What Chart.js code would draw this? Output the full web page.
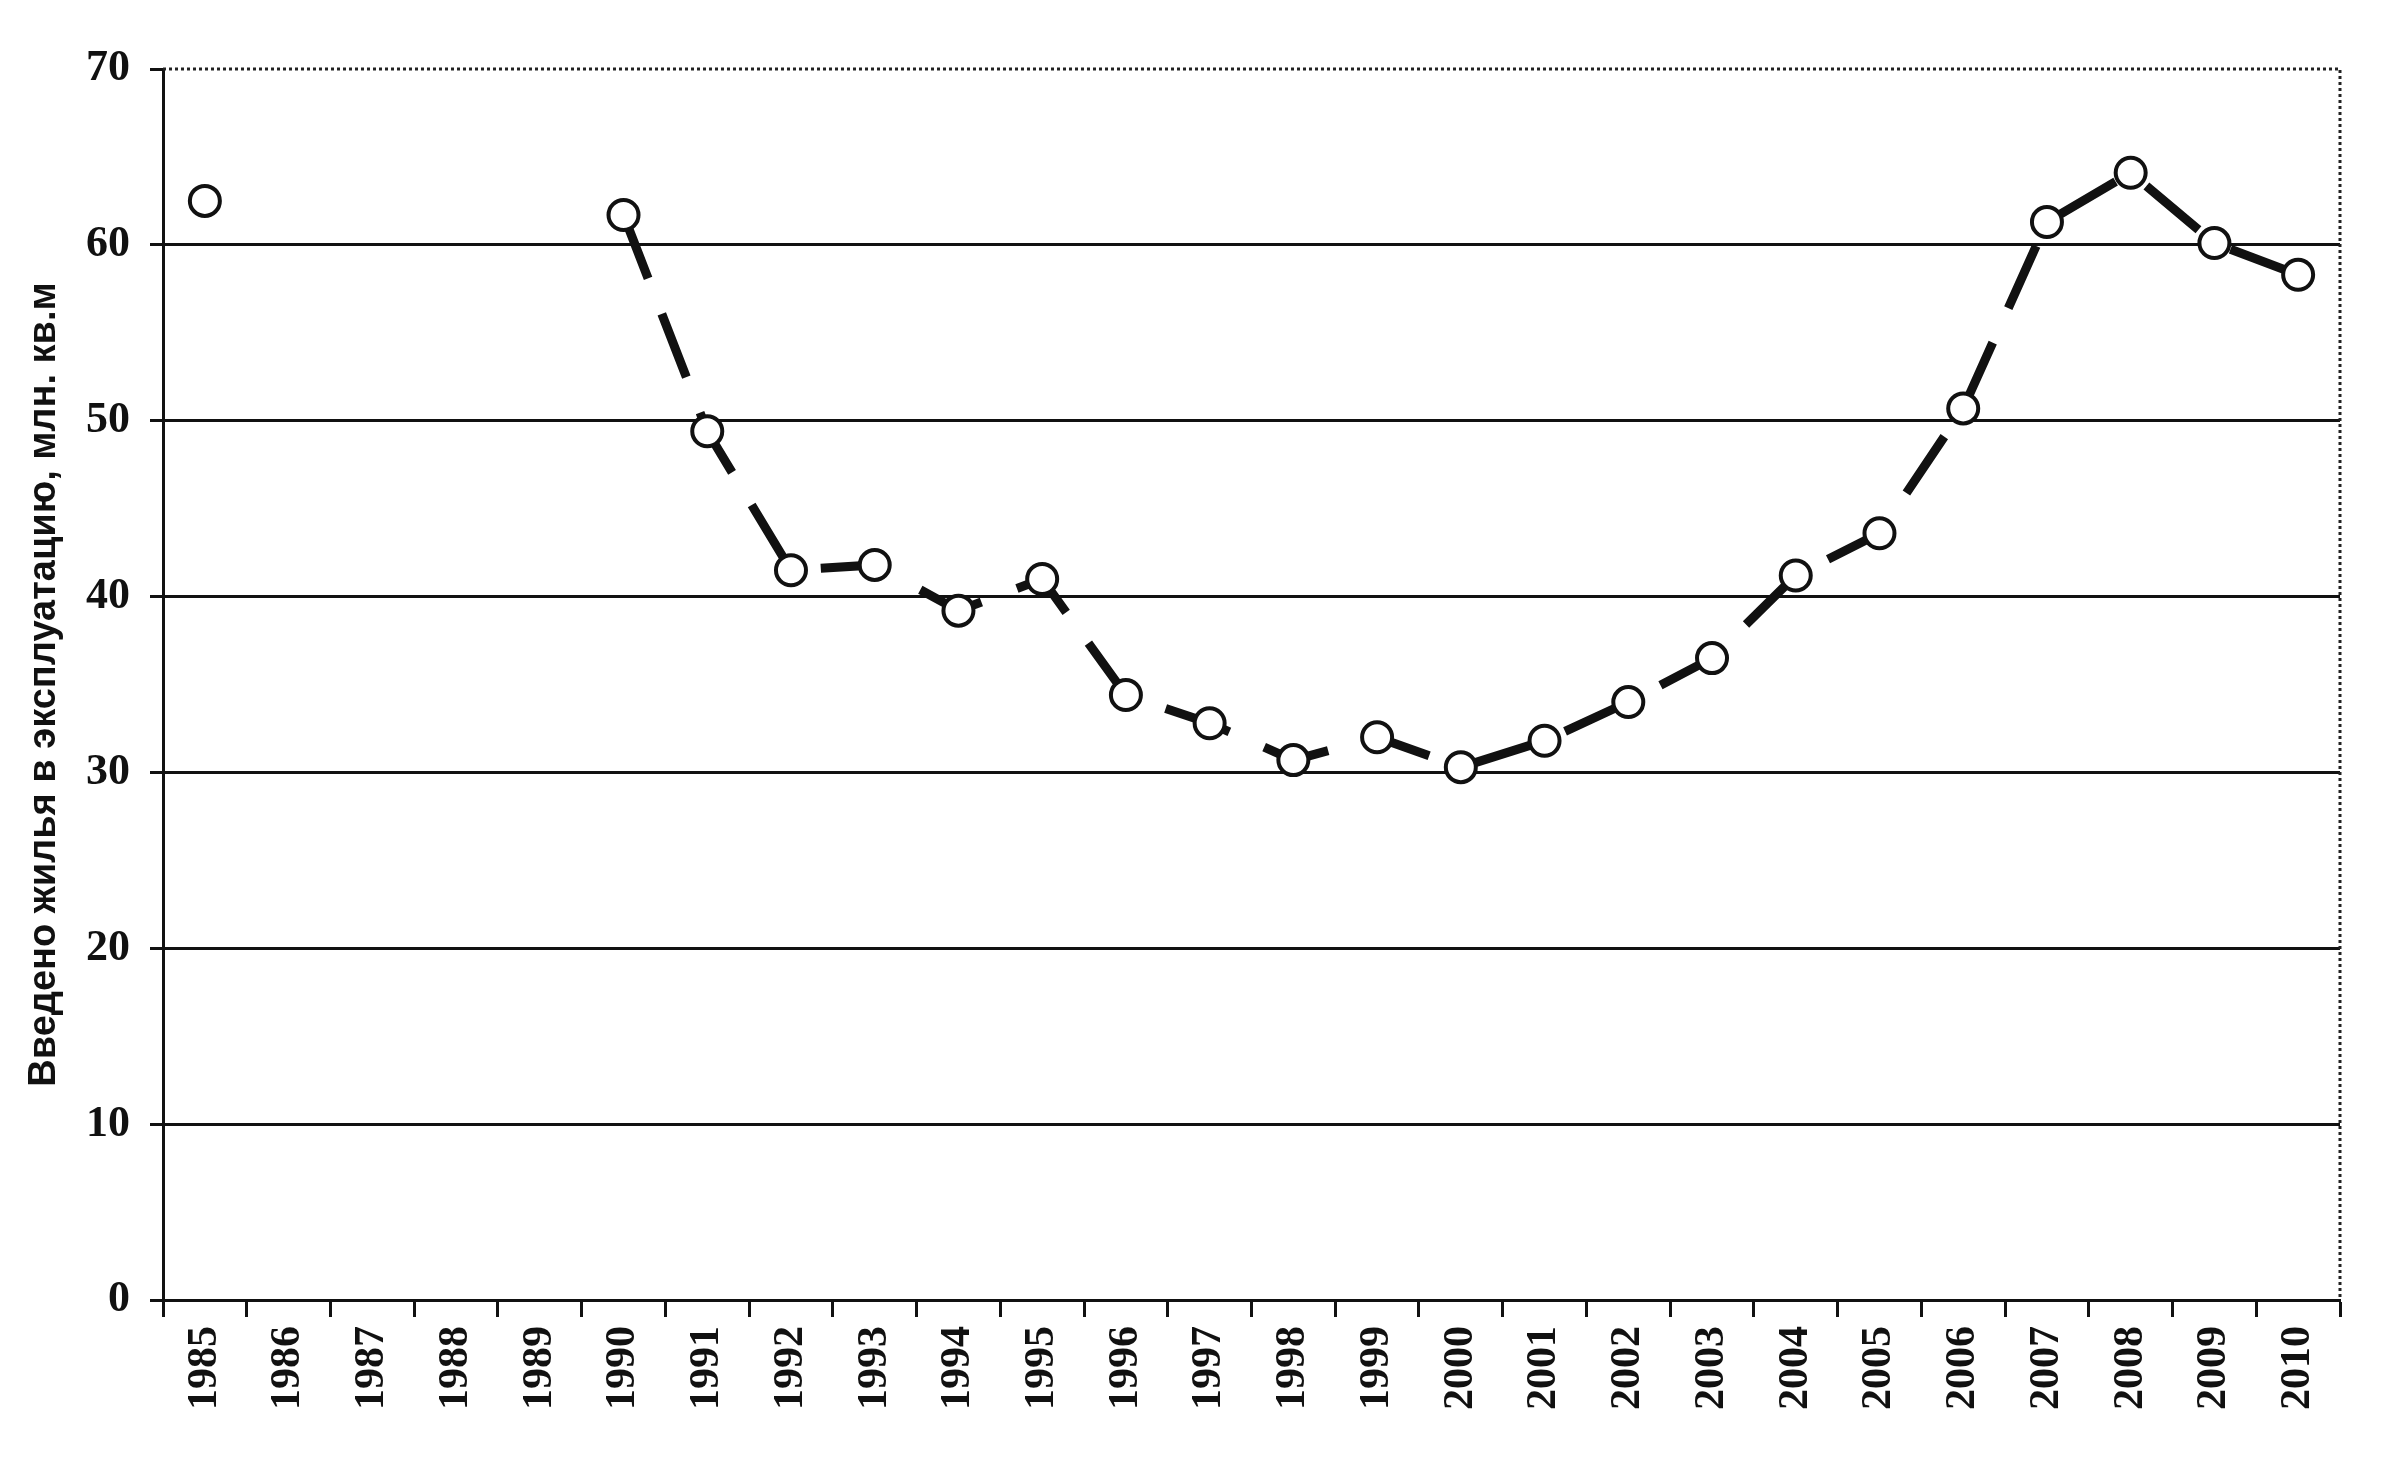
<!DOCTYPE html>
<html>
<head>
<meta charset="utf-8">
<script src="https://cdn.jsdelivr.net/npm/chart.js@4"></script>
<style>
  body { margin: 0; background: #fff; }
  canvas { display: block; }
</style>
</head>
<body>
<canvas id="lineChart" width="2390" height="1476"></canvas>
<script>
// Ввод жилья, млн. кв.м по годам
const years = ['1985', '1986', '1987', '1988', '1989', '1990', '1991', '1992', '1993', '1994',
	'1995', '1996', '1997', '1998', '1999', '2000', '2001', '2002', '2003', '2004',
	'2005', '2006', '2007', '2008', '2009', '2010']
const housing = [62.5, null, null, null, null, 61.7, 49.4, 41.5, 41.8, 39.2,
	41.0, 34.4, 32.8, 30.7, 32.0, 30.3, 31.8, 34.0, 36.5, 41.2,
	43.6, 50.7, 61.3, 64.1, 60.1, 58.3]
const yTicks = [0, 10, 20, 30, 40, 50, 60, 70]
const yTitle = 'Введено жилья в эксплуатацию, млн. кв.м'

// dotted frame at top and right, like the scan
const frame = {
	id: 'frame',
	afterDraw(chart) {
		const { ctx, chartArea: a } = chart
		ctx.save()
		ctx.strokeStyle = '#222'
		ctx.lineWidth = 3
		ctx.setLineDash([3, 3])
		ctx.beginPath()
		ctx.moveTo(a.left, a.top)
		ctx.lineTo(a.right, a.top)
		ctx.lineTo(a.right, a.bottom)
		ctx.stroke()
		ctx.restore()
	}
}

const data = {
	labels: years,
	datasets: [{
		label: 'Ввод жилья',
		data: housing,
		borderColor: '#111',
		borderWidth: 9,
		borderDash: [68, 38],
		spanGaps: false,
		tension: 0,
		pointRadius: 15,
		pointBorderWidth: 4,
		pointBorderColor: '#111',
		pointBackgroundColor: '#fff'
	}]
}

const config_line = {
	type: 'line',
	data: data,
	options: {
		responsive: false,
		animation: false,
		devicePixelRatio: 1,
		layout: { padding: { left: 0, right: 50, top: 69, bottom: 0 } },
		plugins: { legend: { display: false }, tooltip: { enabled: false } },
		scales: {
			x: {
				offset: true,
				afterFit: s => { s.height = 176 },
				grid: { offset: true, drawOnChartArea: false, tickLength: 17, tickWidth: 3, tickColor: '#111' },
				border: { color: '#111', width: 3 },
				ticks: {
					autoSkip: false, minRotation: 90, maxRotation: 90, padding: 9, color: '#111',
					font: { family: 'Liberation Serif', weight: 'bold', size: 42 }
				}
			},
			y: {
				min: 0,
				max: 70,
				afterFit: s => { s.width = 163 },
				afterBuildTicks: s => { s.ticks = yTicks.map(v => ({ value: v })) },
				grid: {
					color: ctx => ctx.tick && ctx.tick.value === 70 ? 'rgba(0,0,0,0)' : '#111',
					lineWidth: 3, tickLength: 13, tickColor: '#111'
				},
				border: { color: '#111', width: 3 },
				ticks: {
					padding: 20, color: '#111',
					font: { family: 'Liberation Serif', weight: 'bold', size: 44 }
				},
				title: {
					display: true, text: yTitle, color: '#111', padding: { top: 22, bottom: 0 },
					font: { family: 'Liberation Sans', weight: 'bold', size: 38 }
				}
			}
		}
	},
	plugins: [frame]
}
const myLineChart = new Chart(document.getElementById('lineChart'), config_line)
</script>
</body>
</html>
